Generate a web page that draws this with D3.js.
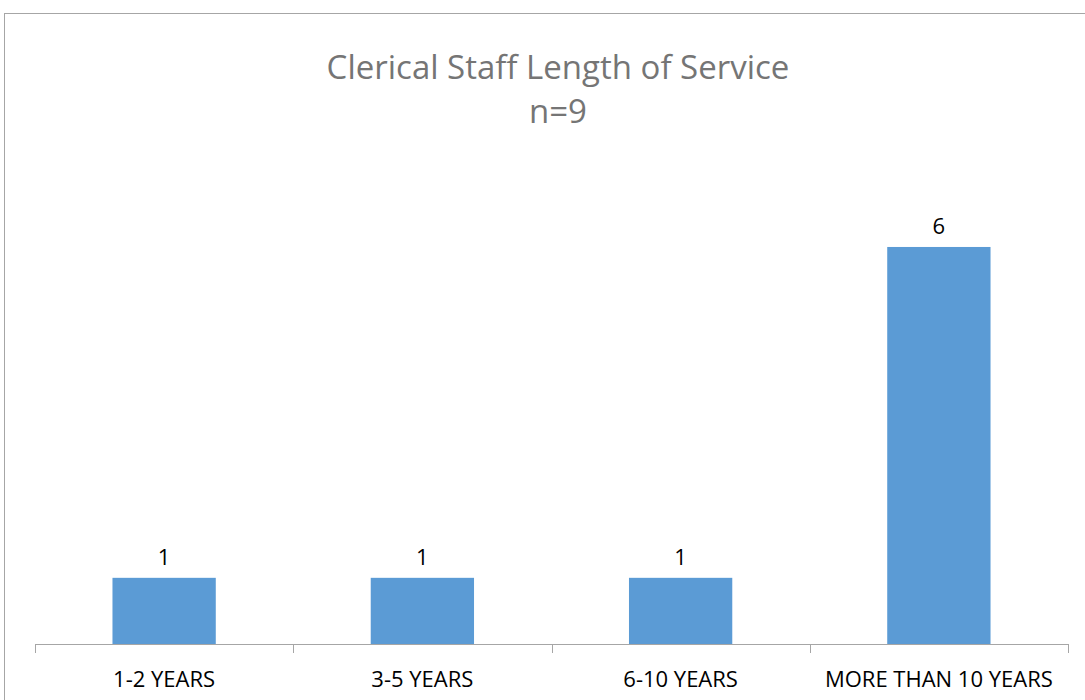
<!DOCTYPE html>
<html>
<head>
<meta charset="utf-8">
<script src="https://cdn.jsdelivr.net/npm/d3@7"></script>
<style>
  body { margin: 0; background: #fff; }
  svg { display: block; font-family: "Open Sans", "Noto Sans", sans-serif; }
</style>
</head>
<body>
<svg id="chart" width="1085" height="700"></svg>
<script>
// chart data
var categories = ["1-2 YEARS", "3-5 YEARS", "6-10 YEARS", "MORE THAN 10 YEARS"];
var counts = [1, 1, 1, 6];
var titleLines = ["Clerical Staff Length of Service", "n=9"];

var svg = d3.select("#chart");

// outer chart border (runs off the right and bottom of the window)
svg.append("rect")
  .attr("x", 4.5).attr("y", 13.5)
  .attr("width", 1100).attr("height", 700)
  .attr("fill", "none")
  .attr("stroke", "#a6a6a6")
  .attr("stroke-width", 1);

var x = d3.scaleBand()
  .domain(categories)
  .range([35, 1068])
  .paddingInner(0.6)
  .paddingOuter(0.3);

var y = d3.scaleLinear()
  .domain([0, 7])
  .range([644, 180.8]);

// title
svg.append("g").selectAll("text")
  .data(titleLines)
  .enter().append("text")
  .attr("x", 558)
  .attr("y", function(d, i) { return 79 + i * 44; })
  .attr("text-anchor", "middle")
  .attr("fill", "#757575")
  .attr("font-size", 33)
  .text(function(d) { return d; });

// bars
svg.append("g").selectAll("rect")
  .data(counts)
  .enter().append("rect")
  .attr("x", function(d, i) { return x(categories[i]); })
  .attr("y", function(d) { return y(d); })
  .attr("width", x.bandwidth())
  .attr("height", function(d) { return y(0) - y(d); })
  .attr("fill", "#5b9bd5");

// value labels
svg.append("g").selectAll("text")
  .data(counts)
  .enter().append("text")
  .attr("x", function(d, i) { return x(categories[i]) + x.bandwidth() / 2; })
  .attr("y", function(d) { return y(d) - 13; })
  .attr("text-anchor", "middle")
  .attr("fill", "#000")
  .attr("font-size", 22)
  .text(function(d) { return d; });

// x axis with ticks between categories
var axis = svg.append("g");
axis.append("line")
  .attr("x1", 35).attr("x2", 1068)
  .attr("y1", y(0) + 0.5).attr("y2", y(0) + 0.5)
  .attr("stroke", "#a6a6a6");

var edges = categories.map(function(c) { return x(c) - x.step() * x.paddingInner() / 2; });
edges.push(1068);
edges[0] = 35;
axis.selectAll("line.tick")
  .data(edges)
  .enter().append("line")
  .attr("class", "tick")
  .attr("x1", function(d) { return Math.round(d) + 0.5; })
  .attr("x2", function(d) { return Math.round(d) + 0.5; })
  .attr("y1", y(0)).attr("y2", y(0) + 9)
  .attr("stroke", "#a6a6a6");

axis.selectAll("text")
  .data(categories)
  .enter().append("text")
  .attr("x", function(d) { return x(d) + x.bandwidth() / 2; })
  .attr("y", 687)
  .attr("text-anchor", "middle")
  .attr("fill", "#000")
  .attr("font-size", 22)
  .text(function(d) { return d; });
</script>
</body>
</html>
